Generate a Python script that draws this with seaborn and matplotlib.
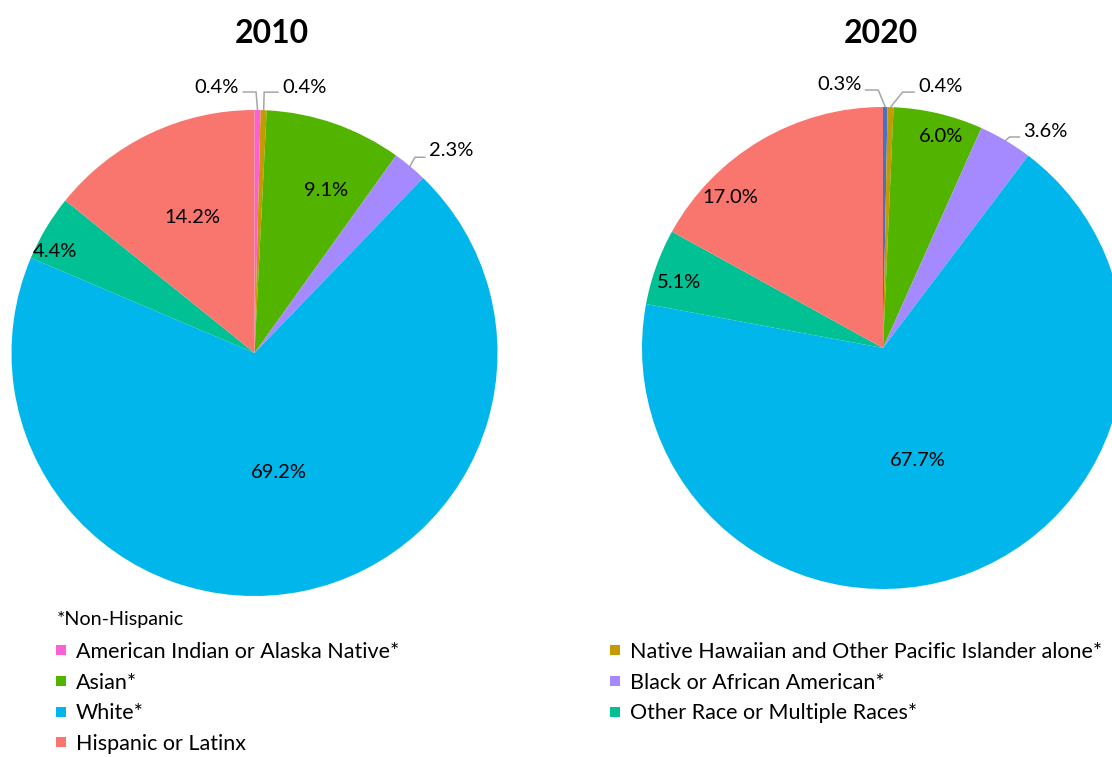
import numpy as np
import matplotlib
matplotlib.use("Agg")
import matplotlib.pyplot as plt
from matplotlib.lines import Line2D
import seaborn as sns

# Population shares by race / ethnicity (percent)
groups = [
    "American Indian or Alaska Native*",
    "Native Hawaiian and Other Pacific Islander alone*",
    "Asian*",
    "Black or African American*",
    "White*",
    "Other Race or Multiple Races*",
    "Hispanic or Latinx",
]
share_2010 = [0.4, 0.4, 9.1, 2.3, 69.2, 4.4, 14.2]
share_2020 = [0.3, 0.4, 6.0, 3.6, 67.7, 5.1, 17.0]
years = ["2010", "2020"]

sns.set_theme(style="white")
plt.rcParams["font.family"] = ["Lato", "DejaVu Sans"]
plt.rcParams["text.color"] = "black"

palette = sns.color_palette(["#FB61D7", "#C49A00", "#53B400", "#A58AFF",
                             "#00B6EB", "#00C094", "#F8766D"])
colors_2010 = list(palette)
colors_2020 = ["#4472C4"] + list(palette[1:])

W, H = 1112, 757
fig = plt.figure(figsize=(W / 100, H / 100), dpi=100)
fig.patch.set_facecolor("white")


def pie_axes(cx, cy, r):
    return fig.add_axes([(cx - r) / W, (H - cy - r) / H, 2 * r / W, 2 * r / H])


# inside labels: slice index -> (radial fraction, clockwise nudge in degrees)
# outside labels: slice index -> (elbow dx, elbow dy, run, text dy) in pixels
layouts = {
    "2010": dict(center=(254.5, 353), radius=243, title_x=271.5,
                 inside={2: (0.73, 4.7), 4: (0.50, 0.0), 5: (0.92, -4.0), 6: (0.615, 1.0)},
                 outside={0: (-1.5, -18, -13, -5), 1: (0.5, -18, 14, -5), 3: (5, -9, 10, -7)}),
    "2020": dict(center=(883, 348), radius=241, title_x=881,
                 inside={2: (0.91, 2.0), 4: (0.49, 4.0), 5: (0.89, -2.0), 6: (0.89, -15.0)},
                 outside={0: (-7, -17, -13, -6), 1: (12, -15, 12, -6), 3: (4, -3.5, 10, -5)}),
}

LABEL_SIZE = 14.5

for year, values, cols in zip(years, [share_2010, share_2020], [colors_2010, colors_2020]):
    lay = layouts[year]
    cx, cy = lay["center"]
    R = lay["radius"]
    ax = pie_axes(cx, cy, R)
    wedges, _ = ax.pie(values, colors=cols, startangle=90, counterclock=False,
                       radius=1, wedgeprops=dict(linewidth=0))
    ax.set_xlim(-1, 1)
    ax.set_ylim(-1, 1)
    ax.set_axis_off()

    for i, (w, v) in enumerate(zip(wedges, values)):
        mid = np.deg2rad((w.theta1 + w.theta2) / 2)
        label = f"{v:.1f}%"
        if i in lay["inside"]:
            frac, nudge = lay["inside"][i]
            a = mid - np.deg2rad(nudge)
            ax.text(frac * np.cos(a), frac * np.sin(a), label, ha="center", va="center",
                    fontsize=LABEL_SIZE, color="black")
        else:
            ex, ey, run, tdy = lay["outside"][i]
            x0, y0 = np.cos(mid), np.sin(mid)
            x1, y1 = x0 + ex / R, y0 - ey / R
            x2 = x1 + run / R
            ax.plot([x0, x1, x2], [y0, y1, y1], color="#A6A6A6", lw=1.1, clip_on=False,
                    solid_joinstyle="miter")
            gap = 4 / R if run > 0 else -4 / R
            ax.text(x2 + gap, y1 - tdy / R, label, ha="left" if run > 0 else "right",
                    va="center", fontsize=LABEL_SIZE, color="black", clip_on=False)

    fig.text(lay["title_x"] / W, 1 - 43 / H, year, ha="center", va="baseline",
             fontsize=23, fontweight="bold", color="black")

# legend
fig.text(57 / W, 1 - 620 / H, "*Non-Hispanic", ha="left", va="center", fontsize=14.2,
         color="black")


def handles(idx):
    return [Line2D([], [], marker="s", linestyle="", markersize=7,
                   markerfacecolor=colors_2010[i], markeredgewidth=0) for i in idx]


left_idx = [0, 2, 4, 6]
right_idx = [1, 3, 5]
common = dict(frameon=False, fontsize=15.5, handlelength=0.5, handletextpad=0.42,
              labelspacing=0.49, borderpad=0, borderaxespad=0, loc="upper left",
              labelcolor="black")
fig.legend(handles(left_idx), [groups[i] for i in left_idx],
           bbox_to_anchor=(56 / W, 1 - 642 / H), **common)
fig.legend(handles(right_idx), [groups[i] for i in right_idx],
           bbox_to_anchor=(610 / W, 1 - 642 / H), **common)

fig.savefig("out.png", dpi=100, facecolor="white")
